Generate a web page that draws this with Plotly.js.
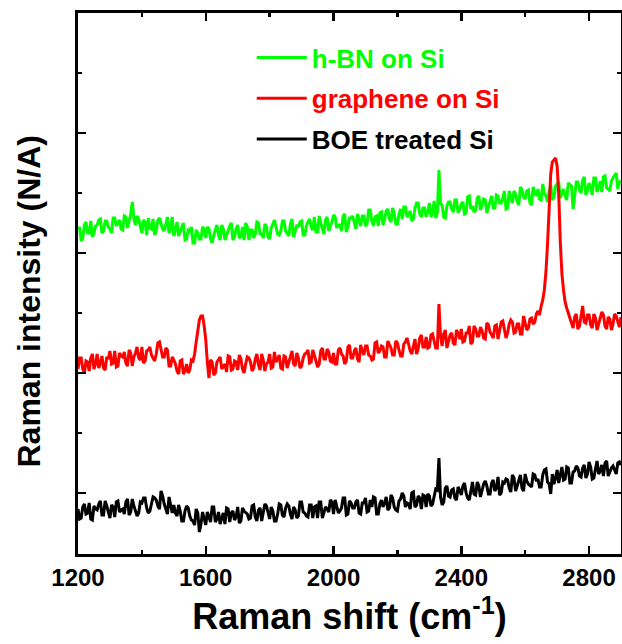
<!DOCTYPE html>
<html>
<head>
<meta charset="utf-8">
<script src="https://cdn.plot.ly/plotly-3.0.1.min.js"></script>
<style>html,body{margin:0;padding:0;background:#fff;}#chart{width:622px;height:644px;}</style>
</head>
<body>
<div id="chart"></div>
<script>
const ramanShift = [1200,1205,1210,1215,1220,1225,1230,1235,1240,1245,1250,1255,1260,1265,1270,1275,1280,1285,1290,1295,
1300,1305,1310,1315,1320,1325,1330,1335,1340,1345,1350,1355,1360,1365,1370,1375,1380,1385,1390,1395,
1400,1405,1410,1415,1420,1425,1430,1435,1440,1445,1450,1455,1460,1465,1470,1475,1480,1485,1490,1495,
1500,1505,1510,1515,1520,1525,1530,1535,1540,1545,1550,1555,1560,1565,1570,1575,1580,1585,1590,1595,
1600,1605,1610,1615,1620,1625,1630,1635,1640,1645,1650,1655,1660,1665,1670,1675,1680,1685,1690,1695,
1700,1705,1710,1715,1720,1725,1730,1735,1740,1745,1750,1755,1760,1765,1770,1775,1780,1785,1790,1795,
1800,1805,1810,1815,1820,1825,1830,1835,1840,1845,1850,1855,1860,1865,1870,1875,1880,1885,1890,1895,
1900,1905,1910,1915,1920,1925,1930,1935,1940,1945,1950,1955,1960,1965,1970,1975,1980,1985,1990,1995,
2000,2005,2010,2015,2020,2025,2030,2035,2040,2045,2050,2055,2060,2065,2070,2075,2080,2085,2090,2095,
2100,2105,2110,2115,2120,2125,2130,2135,2140,2145,2150,2155,2160,2165,2170,2175,2180,2185,2190,2195,
2200,2205,2210,2215,2220,2225,2230,2235,2240,2245,2250,2255,2260,2265,2270,2275,2280,2285,2290,2295,
2300,2305,2310,2315,2320,2325,2330,2335,2340,2345,2350,2355,2360,2365,2370,2375,2380,2385,2390,2395,
2400,2405,2410,2415,2420,2425,2430,2435,2440,2445,2450,2455,2460,2465,2470,2475,2480,2485,2490,2495,
2500,2505,2510,2515,2520,2525,2530,2535,2540,2545,2550,2555,2560,2565,2570,2575,2580,2585,2590,2595,
2600,2605,2610,2615,2620,2625,2630,2635,2640,2645,2650,2655,2660,2665,2670,2675,2680,2685,2690,2695,
2700,2705,2710,2715,2720,2725,2730,2735,2740,2745,2750,2755,2760,2765,2770,2775,2780,2785,2790,2795,
2800,2805,2810,2815,2820,2825,2830,2835,2840,2845,2850,2855,2860,2865,2870,2875,2880,2885,2890,2895,
2900];

const hbnOnSi = [326,326,313,316,329,332,321,321,333,317,321,328,329,334,335,321,323,333,333,327,
325,321,336,336,328,331,334,325,324,338,337,326,333,340,352,335,329,338,335,329,
321,334,332,319,336,326,325,335,319,323,334,336,329,325,323,332,337,321,326,337,
318,324,332,318,322,328,331,314,315,324,323,327,311,311,324,321,315,315,327,325,
316,327,325,315,311,319,324,329,319,314,329,325,314,319,323,328,331,314,317,325,
329,316,318,327,314,331,327,314,324,324,316,320,332,331,320,320,316,330,327,317,
315,326,330,334,327,320,319,323,333,333,323,320,318,330,335,317,322,329,327,332,
333,319,319,328,332,335,327,324,337,322,322,338,331,326,320,334,337,323,327,332,
339,337,326,329,329,323,338,340,322,327,336,336,338,332,325,340,334,328,338,338,
328,330,344,344,333,328,337,338,328,341,342,329,335,343,345,335,332,346,341,330,
330,340,345,335,347,347,337,340,343,333,335,346,351,351,340,337,346,346,337,342,
351,337,341,353,336,341,384,350,349,337,336,348,352,352,345,342,354,354,341,345,
350,352,340,341,357,358,345,348,342,344,356,358,344,349,355,354,341,347,352,358,
346,346,359,358,351,351,356,363,345,346,363,358,351,363,360,352,349,367,364,357,
355,363,364,351,349,367,361,358,365,355,354,370,361,358,352,363,369,354,357,368,
370,372,356,361,365,358,354,371,369,368,345,357,372,372,364,361,374,377,359,364,
371,367,359,376,376,362,366,373,362,377,378,366,365,363,373,376,378,381,365,372,
373];

const grapheneOnSi = [185,196,196,185,181,193,192,183,196,200,185,190,200,186,191,198,186,184,197,195,
203,190,191,203,187,188,201,198,197,202,191,188,204,201,188,197,201,207,196,194,
207,191,193,203,204,207,199,195,193,200,211,212,205,197,197,206,204,188,188,197,
194,190,183,180,193,194,180,183,190,181,184,194,193,200,212,224,234,238,238,228,
214,192,176,194,192,179,181,192,195,197,185,187,190,182,198,197,184,185,193,192,
184,199,195,185,181,190,197,196,192,183,186,195,200,189,184,200,194,183,190,192,
200,186,187,202,192,195,199,186,185,198,197,186,191,197,203,190,188,201,196,186,
188,196,200,201,204,191,192,204,197,193,187,190,203,206,195,195,205,202,193,192,
201,190,190,204,206,200,198,190,193,207,209,196,196,203,206,195,192,209,203,199,
208,208,199,198,194,195,211,212,201,203,208,207,197,197,213,209,206,199,199,213,
211,204,198,198,210,212,216,210,203,200,208,215,200,205,216,219,207,207,217,206,
207,219,220,211,206,206,250,218,208,220,224,206,213,219,221,211,209,224,221,215,
225,212,213,221,221,228,210,212,228,225,218,218,227,223,216,215,231,229,222,219,
216,228,229,215,222,232,233,223,216,221,230,234,232,221,222,230,230,220,220,238,
231,224,226,235,236,230,232,240,243,239,248,254,264,282,310,348,380,392,394,396,
388,360,312,280,264,252,246,241,235,231,226,237,240,225,228,238,248,232,231,239,
239,229,226,240,236,224,230,234,242,239,228,225,237,235,224,230,240,238,231,227,
237];

const boeTreatedSi = [45,35,36,47,50,40,41,51,35,34,48,45,44,50,53,39,39,53,48,43,
36,49,47,37,52,53,42,44,45,40,52,55,39,42,55,48,44,38,41,52,
51,56,56,46,41,43,50,57,56,54,48,45,63,58,50,45,40,57,49,41,
49,41,38,49,43,33,33,43,48,46,38,34,33,29,45,41,22,30,42,36,
29,42,38,32,47,47,32,35,42,30,36,41,30,46,45,32,41,43,34,37,
47,31,33,46,43,41,40,35,36,48,49,37,33,44,46,33,40,50,48,41,
35,47,43,33,33,40,50,49,39,37,46,50,48,40,35,47,44,36,38,52,
52,42,41,38,37,49,49,36,47,48,36,52,52,36,41,47,45,42,54,52,
40,54,48,41,43,46,56,56,39,40,53,51,46,46,52,54,41,40,51,51,
56,42,43,54,47,57,56,40,40,50,54,47,51,57,44,46,59,56,47,44,
43,53,55,61,58,47,51,50,45,61,62,47,49,58,56,45,59,58,47,60,
58,48,50,57,65,64,96,57,49,52,66,68,58,57,64,65,56,54,67,64,
59,68,71,61,56,54,64,72,60,59,72,68,57,64,70,73,68,60,60,71,
74,63,66,77,59,61,72,71,75,74,66,62,79,76,63,68,74,79,66,63,
80,73,70,68,67,80,79,73,75,67,67,79,84,85,72,70,60,80,70,76,
84,71,78,87,74,75,87,86,71,71,82,83,88,86,78,77,86,89,76,80,
92,87,75,76,85,93,80,83,89,78,91,93,78,83,86,88,83,80,91,92,
89];

const seriesNames = ['h-BN on Si', 'graphene on Si', 'BOE treated Si'];
const seriesColors = ['#00ff00', '#ff0000', '#000000'];
const seriesValues = [hbnOnSi, grapheneOnSi, boeTreatedSi];
const xTickVals = [1200, 1600, 2000, 2400, 2800];

const traces = seriesValues.map((vals, i) => ({
  x: ramanShift,
  y: vals,
  type: 'scatter',
  mode: 'lines',
  name: '<span style="color:' + seriesColors[i] + '">' + seriesNames[i] + '</span>',
  legendgroup: 'g' + i,
  line: {color: seriesColors[i], width: 3},
  hoverinfo: 'skip'
}));

const FONT = 'Liberation Sans, Arial, sans-serif';

const layout = {
  width: 622,
  height: 644,
  margin: {l: 78, r: 1, t: 13, b: 90},
  paper_bgcolor: '#ffffff',
  plot_bgcolor: '#ffffff',
  font: {family: FONT, color: '#000'},
  showlegend: true,
  legend: {
    x: 0.320, y: 0.961, xanchor: 'left', yanchor: 'top',
    font: {size: 26, weight: 'bold', family: FONT},
    traceorder: 'grouped', tracegroupgap: 4,
    bgcolor: 'rgba(0,0,0,0)', borderwidth: 0, itemwidth: 50
  },
  xaxis: {
    range: [1200, 2900],
    tickvals: xTickVals,
    ticktext: xTickVals.map(String),
    ticks: 'inside', ticklen: 8, tickwidth: 2.5, tickcolor: '#000',
    minor: {dtick: 200, tick0: 1200, ticks: 'inside', ticklen: 4, tickwidth: 2.5, tickcolor: '#000'},
    showline: true, linewidth: 3, linecolor: '#000', mirror: 'ticks',
    showgrid: false, zeroline: false,
    tickfont: {size: 24, weight: 'bold', family: FONT},
    title: {text: 'Raman shift (cm<sup>-1</sup>)', font: {size: 36, weight: 'bold', family: FONT}, standoff: 8}
  },
  yaxis: {
    range: [0, 541],
    tick0: 61, dtick: 120,
    ticks: 'inside', ticklen: 8, tickwidth: 2.5, tickcolor: '#000',
    minor: {tick0: 1, dtick: 60, ticks: 'inside', ticklen: 4, tickwidth: 2.5, tickcolor: '#000'},
    showticklabels: false,
    showline: true, linewidth: 3, linecolor: '#000', mirror: 'ticks',
    showgrid: false, zeroline: false,
    title: {text: 'Raman intensity (N/A)&nbsp;&nbsp;&nbsp;&nbsp;', font: {size: 32, weight: 'bold', family: FONT}, standoff: 25}
  }
};

Plotly.newPlot('chart', traces, layout, {displayModeBar: false, staticPlot: true});
</script>
</body>
</html>
